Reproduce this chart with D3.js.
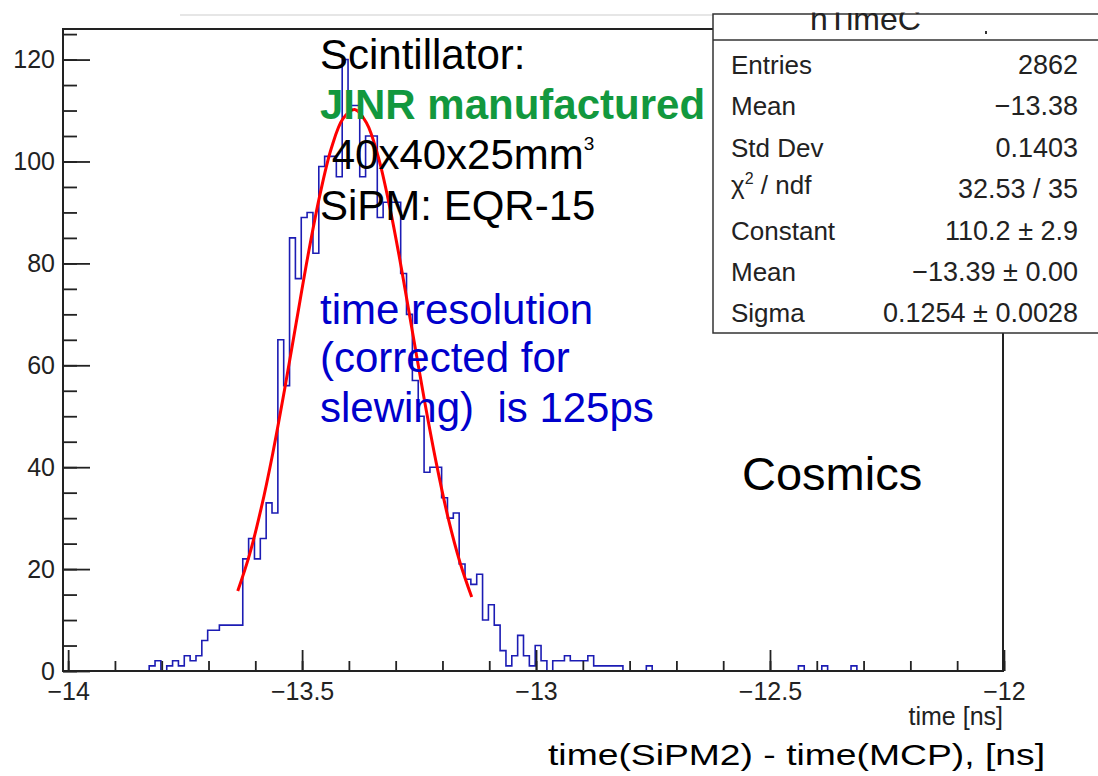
<!DOCTYPE html>
<html lang="en">
<head>
<meta charset="UTF-8">
<title>hTimeCorr</title>
<script src="https://d3js.org/d3.v7.min.js"></script>
<style>
  body { margin: 0; background: #fff; }
  svg { display: block; font-family: "Liberation Sans", Arial, sans-serif; }
</style>
</head>
<body>
<div id="chart"></div>
<script>
// histogram, 0.0125 ns bins
const binLow = -13.8268;
const binWidth = 0.0125;
const counts = [
  1, 2, 0, 1, 2, 1, 3, 2, 3, 6, 8, 8, 9, 9, 9, 9,
  22, 26, 22, 26, 33, 31, 65, 56, 85, 77, 89, 90, 82, 99, 101, 101,
  97, 120, 111, 111, 97, 105, 105, 89, 92, 92, 92, 78, 70, 57, 50, 39,
  40, 40, 34, 30, 31, 21, 18, 17, 19, 10, 13, 9, 4, 1, 3, 7,
  3, 1, 5, 2, 0, 2, 2, 3, 2, 2, 2, 3, 1, 1, 1, 1,
  1, 0, 0, 0, 0, 1, 0, 0, 0, 0, 0, 0, 0, 0, 0, 0,
  0, 0, 0, 0, 0, 0, 0, 0, 0, 0, 0, 0, 0, 0, 0, 1,
  0, 0, 0, 1, 0, 0, 0, 0, 1
];

// gaus fit curve
const fitX = [-13.6375, -13.6125, -13.5875, -13.5625, -13.5375, -13.5125, -13.4875,
  -13.4625, -13.4375, -13.4125, -13.3875, -13.3625, -13.3375, -13.3125, -13.2875,
  -13.2625, -13.2375, -13.2125, -13.1875, -13.1625, -13.1375];
const fitY = [15.7, 22.8, 31.9, 42.8, 55.2, 68.4, 81.5, 93.2, 102.6, 108.4, 110.2,
  107.6, 101.0, 91.0, 78.9, 65.7, 52.6, 40.5, 29.9, 21.3, 14.5];

const xMajorTicks = [-14, -13.5, -13, -12.5, -12];
const yMajorTicks = [0, 20, 40, 60, 80, 100, 120];

const statsTitle = "hTimeC";
const statsLabels = ["Entries", "Mean", "Std Dev", "chi", "Constant", "Mean", "Sigma"];
const statsValues = ["2862", "\u221213.38", "0.1403", "32.53 / 35", "110.2 \u00b1 2.9",
  "\u221213.39 \u00b1 0.00", "0.1254 \u00b1 0.0028"];

const W = 1098, H = 776;
const frame = {left: 63, right: 1003, top: 29, bottom: 671};

const svg = d3.select("#chart").append("svg")
  .attr("width", W).attr("height", H);

svg.append("rect").attr("width", W).attr("height", H).attr("fill", "#fff");

const x = d3.scaleLinear().domain([-14.011, -12.002]).range([frame.left, frame.right]);
const y = d3.scaleLinear().domain([0, 126]).range([frame.bottom, frame.top]);

// faint line at the top
svg.append("line")
  .attr("x1", 180).attr("x2", 713).attr("y1", 15).attr("y2", 15)
  .attr("stroke", "#dedede").attr("stroke-width", 1.5);

// histogram outline
const steps = counts.map((c, i) => ({v: binLow + i * binWidth, c: c}));
steps.push({v: binLow + counts.length * binWidth, c: 0});
const stepLine = d3.line()
  .x(d => x(d.v))
  .y(d => y(d.c))
  .curve(d3.curveStepAfter);
svg.append("path")
  .datum([{v: binLow, c: 0}].concat(steps))
  .attr("d", stepLine)
  .attr("fill", "none")
  .attr("stroke", "#1c1cb4")
  .attr("stroke-width", 1.6);

// fit
const fitLine = d3.line()
  .x((d, i) => x(fitX[i]))
  .y(d => y(d))
  .curve(d3.curveCatmullRom);
svg.append("path")
  .datum(fitY)
  .attr("d", fitLine)
  .attr("fill", "none")
  .attr("stroke", "#ff0000")
  .attr("stroke-width", 3);

// frame
svg.append("rect")
  .attr("x", frame.left).attr("y", frame.top)
  .attr("width", frame.right - frame.left).attr("height", frame.bottom - frame.top)
  .attr("fill", "none").attr("stroke", "#222").attr("stroke-width", 2);

// axes (ROOT style ticks pointing inwards)
const tickFmt = d => String(d).replace("-", "\u2212");

const xAxis = svg.append("g")
  .attr("transform", `translate(0,${frame.bottom})`)
  .call(d3.axisBottom(x).tickValues(xMajorTicks).tickSize(-21).tickPadding(8).tickFormat(tickFmt));
svg.append("g")
  .attr("transform", `translate(0,${frame.bottom})`)
  .call(d3.axisBottom(x).tickValues(d3.range(-14, -11.99, 0.1)).tickSize(-10).tickFormat(""));

const yAxis = svg.append("g")
  .attr("transform", `translate(${frame.left},0)`)
  .call(d3.axisLeft(y).tickValues(yMajorTicks).tickSize(-27).tickPadding(8).tickFormat(tickFmt));
svg.append("g")
  .attr("transform", `translate(${frame.left},0)`)
  .call(d3.axisLeft(y).tickValues(d3.range(0, 126, 5)).tickSize(-14).tickFormat(""));

svg.selectAll(".domain").remove();
svg.selectAll(".tick line").attr("stroke", "#222").attr("stroke-width", 1.8);
svg.selectAll(".tick text")
  .attr("fill", "#222")
  .attr("font-size", 25)
  .attr("font-family", "Liberation Sans, Arial, sans-serif");
xAxis.selectAll(".tick text").attr("dy", "0.82em");

// bottom axis line drawn thicker
svg.append("line")
  .attr("x1", frame.left).attr("x2", frame.right)
  .attr("y1", frame.bottom).attr("y2", frame.bottom)
  .attr("stroke", "#222").attr("stroke-width", 2.2);

// annotation text
const note = svg.append("g").attr("font-size", 42);
note.append("text").attr("x", 320).attr("y", 68.5).attr("fill", "#000").text("Scintillator:");
note.append("text").attr("x", 320).attr("y", 118.5).attr("fill", "#12983e")
  .attr("font-weight", "bold").text("JINR manufactured");
const dims = note.append("text").attr("x", 320).attr("y", 168.5).attr("fill", "#000")
  .style("white-space", "pre");
dims.append("tspan").text(" 40x40x25mm");
dims.append("tspan").attr("font-size", 19).attr("dy", -19).text("3");
note.append("text").attr("x", 320).attr("y", 220).attr("fill", "#000").text("SiPM: EQR-15");

const blue = "#0000cc";
note.append("text").attr("x", 320).attr("y", 323.5).attr("fill", blue).text("time resolution");
note.append("text").attr("x", 320).attr("y", 372).attr("fill", blue).text("(corrected for");
note.append("text").attr("x", 320).attr("y", 421.5).attr("fill", blue)
  .style("white-space", "pre").text("slewing)  is 125ps");

svg.append("text").attr("x", 742).attr("y", 490).attr("font-size", 47)
  .attr("fill", "#000").text("Cosmics");

// stats box
const box = svg.append("g");
box.append("rect")
  .attr("x", 713).attr("y", 14).attr("width", 420).attr("height", 319)
  .attr("fill", "#fff").attr("stroke", "#333").attr("stroke-width", 1.5);
box.append("line")
  .attr("x1", 713).attr("x2", W).attr("y1", 40).attr("y2", 40)
  .attr("stroke", "#333").attr("stroke-width", 1.5);
box.append("text").attr("x", 810).attr("y", 30).attr("font-size", 32)
  .attr("fill", "#222").text(statsTitle);
// title top is cut off in the reference
box.append("rect").attr("x", 714).attr("y", 0).attr("width", W - 714).attr("height", 12.5)
  .attr("fill", "#fff");
box.append("rect").attr("x", 985).attr("y", 31).attr("width", 2).attr("height", 3)
  .attr("fill", "#333");

const row = d3.scalePoint().domain(d3.range(statsLabels.length)).range([74, 322.4]);
statsLabels.forEach((lab, i) => {
  const t = box.append("text").attr("x", 731).attr("y", row(i)).attr("font-size", 26)
    .attr("fill", "#222");
  if (lab === "chi") {
    t.attr("y", row(i) - 4);
    t.append("tspan").text("\u03c7");
    t.append("tspan").attr("font-size", 16).attr("dy", -10).text("2");
    t.append("tspan").attr("dy", 10).text(" / ndf");
  } else {
    t.text(lab);
  }
  box.append("text").attr("x", 1078).attr("y", row(i)).attr("font-size", 27)
    .attr("text-anchor", "end").attr("fill", "#222").text(statsValues[i]);
});

// axis titles
svg.append("text").attr("x", 1003).attr("y", 725).attr("font-size", 25)
  .attr("text-anchor", "end").attr("fill", "#222").text("time [ns]");
svg.append("text").attr("x", 548).attr("y", 765).attr("font-size", 30)
  .attr("textLength", 497).attr("lengthAdjust", "spacingAndGlyphs")
  .attr("fill", "#000").text("time(SiPM2) - time(MCP), [ns]");
</script>
</body>
</html>
